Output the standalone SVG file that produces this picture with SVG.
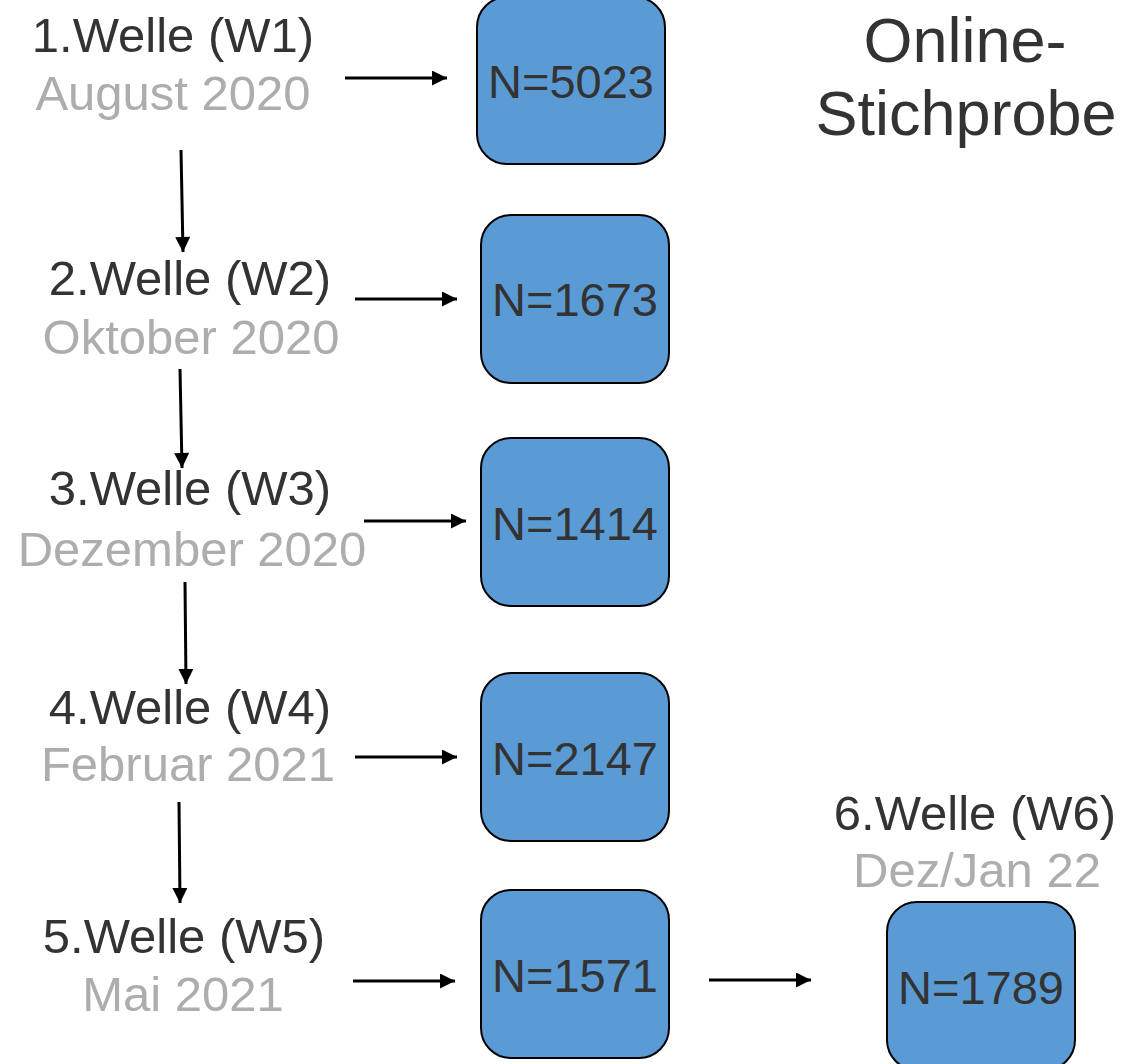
<svg xmlns="http://www.w3.org/2000/svg" width="1145" height="1064" viewBox="0 0 1145 1064">
<defs>
<style>
.t{font-family:"Liberation Sans",Arial,sans-serif;font-size:49px;fill:#333;text-anchor:middle}
.d{font-family:"Liberation Sans",Arial,sans-serif;font-size:49px;fill:#adadad;text-anchor:middle}
.n{font-family:"Liberation Sans",Arial,sans-serif;font-size:47px;fill:#333;text-anchor:middle}
.h{font-family:"Liberation Sans",Arial,sans-serif;font-size:63px;fill:#333;text-anchor:middle}
.box{fill:#5b9bd5;stroke:#000;stroke-width:2}
.c{stroke:#000;stroke-width:3;fill:none;marker-end:url(#ah)}
</style>
<marker id="ah" viewBox="0 0 10 10" refX="10" refY="5" markerWidth="5.5" markerHeight="5" markerUnits="strokeWidth" orient="auto">
<path d="M0,0 L10,5 L0,10 Z" fill="#000"/>
</marker>
</defs>
<g id="title"><text class="h" x="965" y="62">Online-</text><text class="h" x="966" y="135">Stichprobe</text></g>
<g id="w1"><text class="t" x="173" y="52">1.Welle (W1)</text><text class="d" x="173" y="110">August 2020</text></g>
<g id="w2"><text class="t" x="190" y="295">2.Welle (W2)</text><text class="d" x="191" y="354">Oktober 2020</text></g>
<g id="w3"><text class="t" x="190" y="505">3.Welle (W3)</text><text class="d" x="192" y="566">Dezember 2020</text></g>
<g id="w4"><text class="t" x="190" y="724">4.Welle (W4)</text><text class="d" x="188" y="781">Februar 2021</text></g>
<g id="w5"><text class="t" x="184" y="953">5.Welle (W5)</text><text class="d" x="183" y="1011">Mai 2021</text></g>
<g id="w6"><text class="t" x="975" y="830">6.Welle (W6)</text><text class="d" x="977" y="887">Dez/Jan 22</text></g>
<g id="n1"><rect class="box" x="477" y="-3" width="188" height="167" rx="30"/><text class="n" x="571" y="98">N=5023</text></g>
<g id="n2"><rect class="box" x="481" y="215" width="188" height="168" rx="30"/><text class="n" x="575" y="316">N=1673</text></g>
<g id="n3"><rect class="box" x="481" y="438" width="188" height="168" rx="30"/><text class="n" x="575" y="540">N=1414</text></g>
<g id="n4"><rect class="box" x="481" y="673" width="188" height="168" rx="30"/><text class="n" x="575" y="775">N=2147</text></g>
<g id="n5"><rect class="box" x="481" y="890" width="188" height="168" rx="30"/><text class="n" x="575" y="992">N=1571</text></g>
<g id="n6"><rect class="box" x="887" y="902" width="188" height="168" rx="30"/><text class="n" x="981" y="1004">N=1789</text></g>
<g id="connectors">
<line class="c" x1="345" y1="78" x2="447" y2="78"/>
<line class="c" x1="355" y1="299" x2="457" y2="299"/>
<line class="c" x1="364" y1="521" x2="466" y2="521"/>
<line class="c" x1="355" y1="757" x2="457" y2="757"/>
<line class="c" x1="353" y1="981" x2="455" y2="981"/>
<line class="c" x1="709" y1="980" x2="811" y2="980"/>
<line class="c" x1="181" y1="150" x2="183" y2="252"/>
<line class="c" x1="180" y1="369" x2="182" y2="468"/>
<line class="c" x1="185" y1="582" x2="186" y2="684"/>
<line class="c" x1="179" y1="802" x2="180" y2="903"/>
</g>
</svg>
